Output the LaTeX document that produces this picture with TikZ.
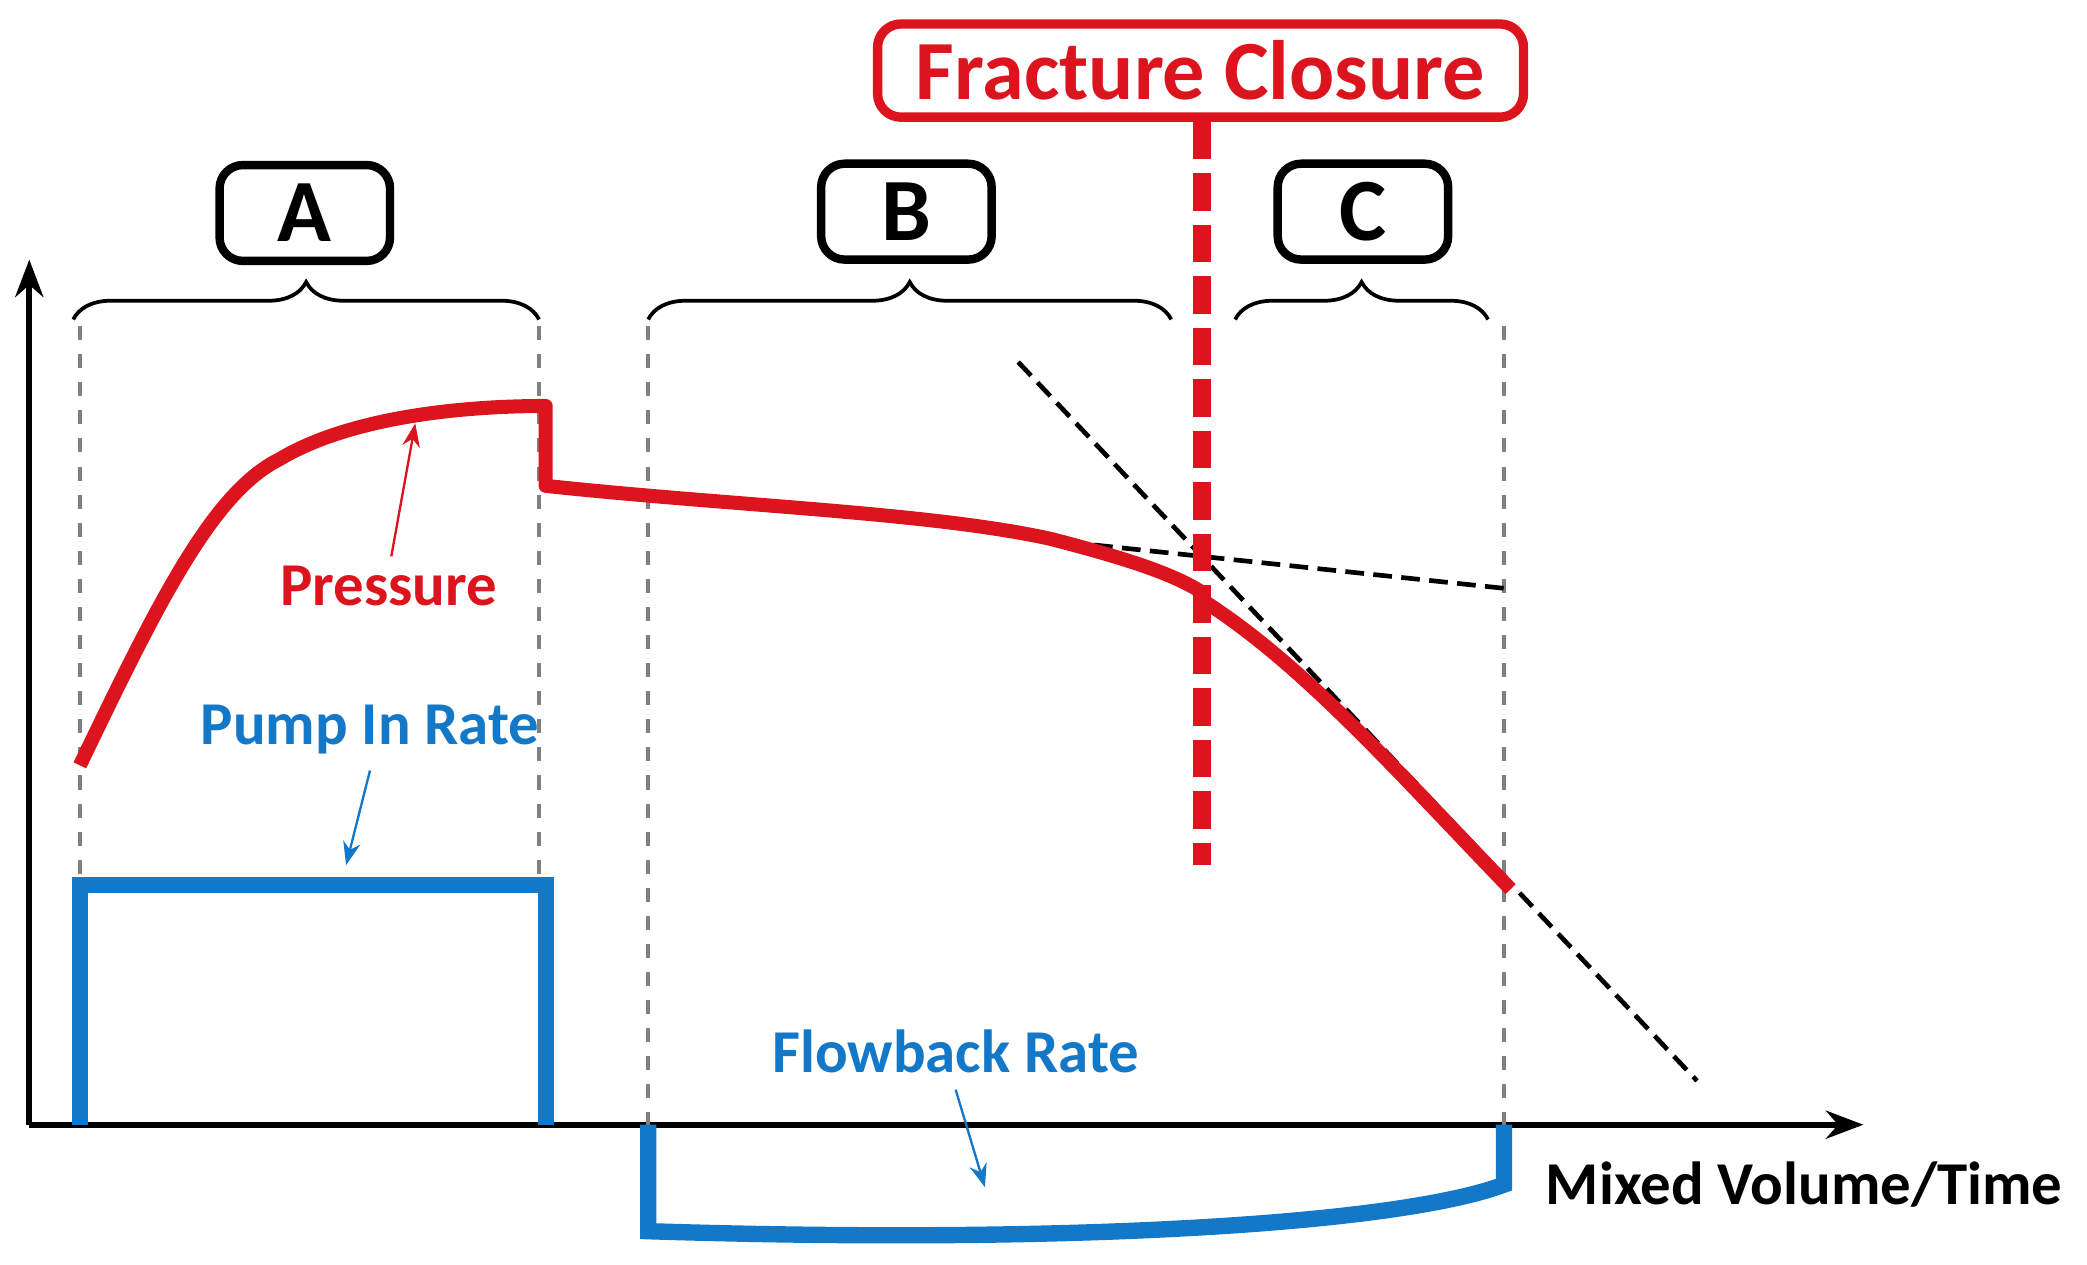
\documentclass[tikz,border=0pt]{standalone}
\usepackage{fontspec}
\setmainfont{Carlito}
\usetikzlibrary{decorations.pathreplacing,arrows.meta}
\definecolor{pred}{RGB}{220,20,30}
\definecolor{pblue}{RGB}{20,120,200}
\begin{document}
\begin{tikzpicture}[x=0.01cm,y=-0.01cm,
 lbox/.style={draw,rounded corners=5pt,line width=1.8pt,minimum width=1.28cm,minimum height=0.72cm,font=\fontsize{19}{21}\selectfont\bfseries},
 brc/.style={decorate,decoration={brace,amplitude=8pt},line width=0.8pt},
 gdash/.style={gray,dashed,line width=0.8pt},
 kdash/.style={black,dash pattern=on 4pt off 2pt,line width=1pt},
 lab/.style={font=\fontsize{13}{15}\selectfont\bfseries},
 thinarr/.style={-{Stealth[length=5pt]},line width=0.5pt}]
\useasboundingbox (0,0) rectangle (1568,950);
% axes
\coordinate (o) at (22,845);
\coordinate (yend) at (22,195);
\coordinate (xend) at (1400,845);
\draw[line width=1.3pt,-{Stealth[length=8pt]}] (o) -- (yend);
\draw[line width=1.3pt,-{Stealth[length=8pt]}] (o) -- (xend);
% boxes
\node[lbox] (A) at (229,160) {A};
\node[lbox] (B) at (681,159) {B};
\node[lbox] (C) at (1024,159) {C};
\node[draw=pred,text=pred,rounded corners=5pt,line width=2pt,minimum width=4.85cm,minimum height=0.7cm,font=\fontsize{18}{20}\selectfont\bfseries] (FC) at (902,53) {Fracture Closure};
% braces
\draw[brc] (55,240) -- (405,240);
\draw[brc] (487,240) -- (880,240);
\draw[brc] (928,240) -- (1118,240);
% gray dashed
\draw[gdash] (60,245) -- (60,845);
\draw[gdash] (405,245) -- (405,660);
\draw[gdash] (487,245) -- (487,845);
\draw[gdash] (1130,245) -- (1130,845);
% black dashed
\coordinate (k1) at (765,272); \coordinate (k2) at (1275,812);
\coordinate (k3) at (780,405); \coordinate (k4) at (1130,442);
\draw[kdash] (k1) -- (k2);
\draw[kdash] (k3) -- (k4);
% red dashed fracture closure
\coordinate (fcb) at (903,650);
\draw[pred,line width=4pt,dash pattern=on 8pt off 3pt] (FC.south -| fcb) -- (fcb);
% pressure
\draw[pred,line width=3pt,line join=round] (60,575) .. controls (120,450) and (160,370) .. (210,345)
 .. controls (260,315) and (340,305) .. (410,305) -- (410,365)
 .. controls (550,380) and (700,385) .. (790,405)
 .. controls (840,418) and (880,430) .. (903,445) -- (905,452)
 .. controls (980,500) and (1050,580) .. (1135,668);
% pump
\draw[pblue,line width=3.5pt,line join=miter] (60,845) -- (60,665) -- (410,665) -- (410,845);
\draw[pblue,line width=3.5pt] (487,845) -- (487,925) .. controls (800,935) and (1050,920) .. (1130,890) -- (1130,845);
% labels
\node[lab,text=pred] (P) at (292,440) {Pressure};
\coordinate (pa) at (312,318);
\draw[thinarr,pred] (294,418) -- (pa);
\node[lab,text=pblue] (PI) at (278,548) {Pump In Rate};
\coordinate (pia) at (260,650);
\draw[thinarr,pblue] (PI.south) -- (pia);
\node[lab,text=pblue] (FB) at (718,790) {Flowback Rate};
\coordinate (fba) at (740,892);
\draw[thinarr,pblue] (FB.south) -- (fba);
\node[lab,anchor=east] (X) at (1562,890) {Mixed Volume/Time};
\end{tikzpicture}
\end{document}
